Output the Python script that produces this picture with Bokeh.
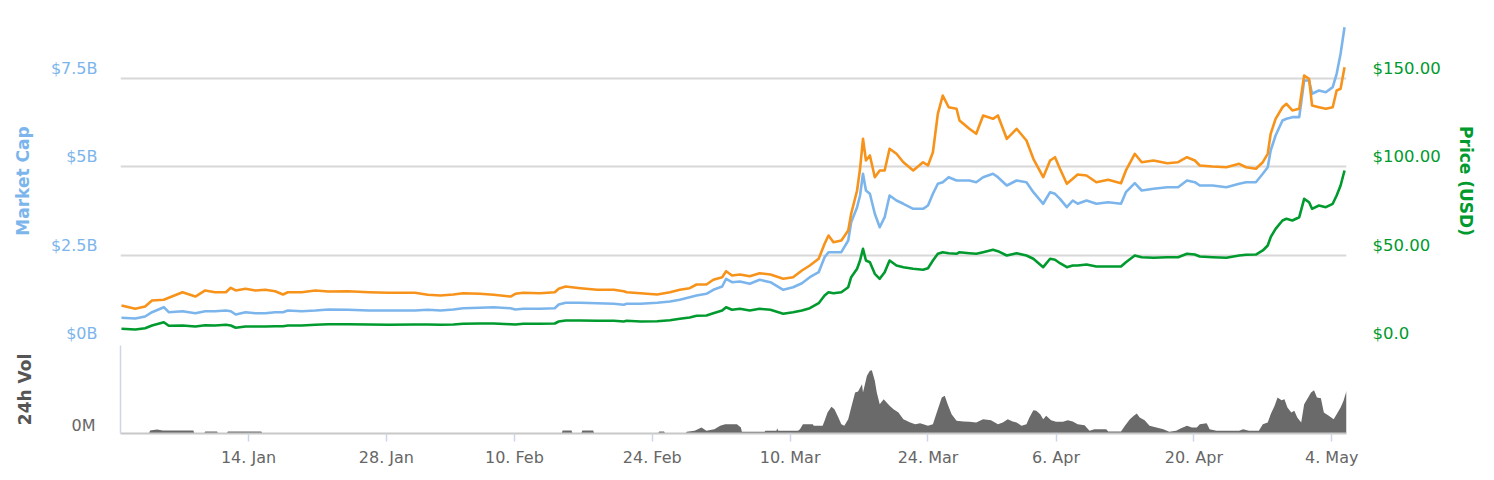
import pandas as pd
from bokeh.plotting import figure
from bokeh.models import Range1d, LinearAxis, FixedTicker
from bokeh.layouts import column
from bokeh.embed import file_html
from bokeh.resources import INLINE

START = "2017-01-01"

# sample times, in days since START
days = [0.1, 1.5, 2.5, 3.2, 4.4, 4.9, 6.3, 7.6, 8.6, 9.6, 10.7, 11.2, 11.7, 12.7, 13.7, 14.7, 15.7, 16.5, 17, 18.4,
        19.8, 21.1, 23.1, 25.2, 27.2, 29.9, 31.2,
        32.5, 33.8, 34.8, 36.5, 37.9, 39.6, 40.1, 40.9, 42.6, 44.1, 44.5, 45.2, 46.7, 48.4, 50.1, 51.1, 51.4, 52.8, 54.5, 55.8,
        56.8, 57.8, 58.5, 59.5, 60.2, 61.1, 61.5, 62.1, 62.9, 63.9,
        64.9, 66, 67.3, 68.3, 69.2, 70, 70.9, 71.5, 71.9, 72.4, 73.2, 73.9, 74.2, 74.8, 75.1, 75.4, 75.7, 76.1, 76.6, 77.1,
        77.6, 78.1, 78.8, 79.5, 80.5, 81.5, 82, 82.5, 83, 83.5, 84.1, 84.9, 85.2, 86.2, 86.9, 87.6, 88.6, 89.1, 90, 91,
        92, 92.7, 93.7,
        94.4, 94.9, 95.4, 96.1, 96.7, 97.2, 98.1, 99.1, 100.3, 101.6, 102.1, 103, 103.7, 104.9, 106.3, 107.4, 108.3, 109.1,
        109.6, 110.9, 112.3, 113.6, 114.3, 115.3, 116, 116.5, 116.8, 117.3, 118, 118.4, 119, 119.7, 120.2, 120.7, 121,
        121.7, 122.4, 123.1, 123.5, 123.9, 124.3]

market_cap_b = [0.728, 0.708, 0.764, 0.886, 1.028, 0.886, 0.914, 0.858, 0.914, 0.914, 0.934, 0.914, 0.821, 0.886, 0.858,
                0.858, 0.886, 0.886, 0.934, 0.914, 0.934, 0.963, 0.954, 0.934, 0.934, 0.934, 0.954,
                0.934, 0.963, 0.999, 1.011, 1.028, 0.999, 0.963, 0.982, 0.982, 0.999, 1.104, 1.152, 1.152, 1.141, 1.124,
                1.096, 1.124, 1.124, 1.152, 1.189, 1.237, 1.311, 1.359, 1.407, 1.520, 1.614, 1.832, 1.735, 1.755, 1.690,
                1.803, 1.735, 1.520, 1.594, 1.707, 1.877, 2.018, 2.443, 2.585, 2.585, 2.585, 2.916, 3.434, 3.859, 4.190,
                4.804, 4.331, 4.238, 3.672, 3.292, 3.576, 4.190, 4.048, 3.955, 3.813, 3.813, 3.907, 4.238, 4.521, 4.566,
                4.708, 4.615, 4.615, 4.615, 4.566, 4.708, 4.804, 4.708, 4.473, 4.615, 4.566, 4.283, 3.955,
                4.283, 4.238, 4.096, 3.859, 4.048, 3.955, 4.048, 3.955, 4.000, 3.955, 4.283, 4.538, 4.331, 4.380, 4.425,
                4.425, 4.615, 4.566, 4.473, 4.473, 4.425, 4.521, 4.566, 4.566, 4.804, 4.991, 5.464, 5.888, 6.313, 6.361,
                6.407, 6.407, 7.445, 7.445, 7.069, 7.162, 7.114, 7.256, 7.635, 8.201, 8.954]

price_usd = [8.32, 7.93, 8.66, 10.19, 12.06, 10.02, 10.19, 9.63, 10.36, 10.19, 10.59, 10.19, 8.89, 9.63, 9.63, 9.63, 9.80,
             9.80, 10.19, 10.19, 10.59, 10.93, 10.93, 10.76, 10.59, 10.76, 10.76,
             10.59, 10.76, 11.16, 11.33, 11.33, 10.93, 10.76, 11.16, 11.16, 11.33, 12.46, 13.02, 13.02, 12.86, 12.86,
             12.46, 12.86, 12.46, 12.63, 13.19, 13.99, 14.72, 15.69, 15.86, 17.16, 18.69, 20.56, 19.08, 19.65, 18.69,
             19.65, 19.08, 16.82, 17.73, 18.69, 19.99, 22.82, 27.18, 29.05, 28.48, 29.05, 31.88, 37.55, 42.30, 47.00,
             53.63, 47.00, 46.04, 39.47, 36.64, 40.38, 47.00, 44.17, 43.21, 42.30, 41.74, 42.64, 47.00, 50.80, 51.70,
             51.14, 50.80, 51.70, 51.14, 50.80, 51.70, 53.06, 52.27, 49.83, 51.14, 49.83, 47.97, 43.21,
             47.97, 47.40, 45.47, 43.21, 44.17, 44.17, 44.74, 43.61, 43.61, 43.61, 46.04, 49.83, 48.87, 48.53, 48.87,
             48.87, 50.80, 50.40, 49.27, 48.87, 48.53, 49.83, 50.23, 50.40, 52.67, 55.50, 60.20, 64.95, 69.65, 70.62,
             69.65, 71.52, 81.94, 80.02, 76.28, 78.15, 77.19, 79.11, 83.81, 89.48, 97.97]

price_btc = [0.00768, 0.00701, 0.00747, 0.00869, 0.00883, 0.00923, 0.01036, 0.00949, 0.01071, 0.01036, 0.01036, 0.01125,
             0.01071, 0.01105, 0.01071, 0.01085, 0.01056, 0.00990, 0.01036, 0.01036, 0.01071, 0.01050, 0.01056, 0.01036,
             0.01024, 0.01024, 0.00984,
             0.00970, 0.00990, 0.01016, 0.01004, 0.00984, 0.00949, 0.01004, 0.01024, 0.01016, 0.01036, 0.01105, 0.01151,
             0.01117, 0.01085, 0.01085, 0.01056, 0.01036, 0.01016, 0.00990, 0.01036, 0.01085, 0.01117, 0.01192, 0.01192,
             0.01287, 0.01339, 0.01460, 0.01374, 0.01394, 0.01359,
             0.01420, 0.01394, 0.01307, 0.01339, 0.01475, 0.01576, 0.01711, 0.02014, 0.02182, 0.02046, 0.02081, 0.02283,
             0.02620, 0.03091, 0.03529, 0.04135, 0.03697, 0.03798, 0.03359, 0.03495, 0.03495, 0.03933, 0.03832, 0.03662,
             0.03495, 0.03662, 0.03596, 0.03864, 0.04640, 0.05010, 0.04773, 0.04741, 0.04505, 0.04337, 0.04236, 0.04606,
             0.04539, 0.04606, 0.04135, 0.04337, 0.04101, 0.03731, 0.03359,
             0.03697, 0.03763, 0.03529, 0.03226, 0.03327, 0.03414, 0.03394, 0.03258, 0.03307, 0.03238, 0.03495, 0.03832,
             0.03662, 0.03697, 0.03642, 0.03662, 0.03763, 0.03697, 0.03596, 0.03575, 0.03561, 0.03630, 0.03561, 0.03529,
             0.03662, 0.03832, 0.04236, 0.04539, 0.04773, 0.04842, 0.04707, 0.04741, 0.05414, 0.05347, 0.04808, 0.04773,
             0.04741, 0.04773, 0.05111, 0.05145, 0.05581]

vol_days = [0, 2.9, 3.0, 3.7, 4.3, 7.4, 7.5, 8.5, 8.6, 9.8, 9.9, 10.8, 10.9, 14.3, 14.4, 44.8, 44.9, 45.8, 45.9, 46.8,
            46.9, 48.0, 48.1, 54.6, 54.7, 55.2, 55.3, 57.4,
            57.5, 58.3, 59, 59.5, 60.3, 60.9, 61.4, 62.6, 63, 63.1, 65.4, 65.5, 66.6, 66.7, 66.8, 68.8, 69.0, 69.3, 70.3,
            70.4, 71.3, 71.5, 71.8, 72.2, 72.5, 72.9, 73.2, 73.5, 73.9, 74.2, 74.6, 74.9, 75.3, 75.4, 75.8, 76.1, 76.3,
            76.6, 76.8, 77.1, 77.5, 77.8, 78.1, 78.5, 79, 79.5, 80.2, 80.7, 81.2, 82, 82.5, 83, 83.4, 83.7, 84, 84.4,
            84.9, 85.6, 86.2, 86.9, 87.6, 88.4, 89.1, 89.6, 90.1, 90.6, 91.0, 91.5, 92, 92.3, 92.7, 93, 93.4, 93.7, 94,
            94.5, 95, 95.7, 96.2, 96.7, 97.2, 97.9, 98.4, 98.9, 100.1, 100.3, 101.6, 102, 102.5, 102.9, 103.2, 103.5,
            104, 104.5, 105.2, 105.9, 106.5, 107.2, 107.7, 108.3, 108.8, 109.3, 109.6, 110.3, 110.6, 111.3, 113.6, 114,
            114.6, 115.6, 116, 116.5, 116.8, 117.2, 117.5, 117.9, 118.2, 118.5, 118.9, 119.2, 119.5, 119.9, 120.2,
            120.5, 120.9, 121.2, 121.5, 121.9, 122.2, 122.7, 123.2, 123.5, 123.9, 124.2, 124.5]

volume_m = [2, 2, 22, 30, 22, 22, 2, 2, 15, 15, 2, 2, 15, 15, 2, 2, 22, 22, 2, 2,
            22, 22, 2, 2, 15, 15, 2, 2,
            13, 20, 45, 20, 32, 58, 70, 70, 45, 13, 13, 20, 20, 38, 20, 20, 32, 70, 70,
            58, 58, 95, 158, 200, 182, 120, 70, 58, 107, 195, 308, 315, 370, 308, 433, 470, 475,
            395, 308, 220, 257, 233, 208, 182, 158, 107, 83, 70, 77, 58, 70, 182, 270, 283, 220, 145,
            95, 90, 88, 83, 107, 100, 70, 83, 107, 90, 83, 58, 70, 120, 175, 170, 145, 107, 133,
            100, 88, 88, 100, 90, 70, 62, 20, 32, 32, 15, 15, 58, 107, 133, 150, 120,
            100, 58, 45, 32, 13, 20, 40, 58, 45, 45, 70, 77, 32, 20, 20, 32,
            20, 20, 70, 83, 145, 208, 270, 250, 257, 195, 158, 170, 120, 83, 220,
            257, 308, 325, 270, 265, 158, 133, 107, 145, 195, 245, 320]

tick_dates = ["2017-01-14", "2017-01-28", "2017-02-10", "2017-02-24", "2017-03-10",
              "2017-03-24", "2017-04-06", "2017-04-20", "2017-05-04"]
tick_labels = ["14. Jan", "28. Jan", "10. Feb", "24. Feb", "10. Mar", "24. Mar", "6. Apr", "20. Apr", "4. May"]

cap_ticks = [0, 2.5, 5, 7.5]
cap_labels = ["$0B", "$2.5B", "$5B", "$7.5B"]
usd_ticks = [0, 50, 100, 150]
usd_labels = ["$0.0", "$50.00", "$100.00", "$150.00"]

BLUE = "#7cb5ec"
ORANGE = "#f7931a"
GREEN = "#009a2e"
FONT = "DejaVu Sans"

t0 = pd.Timestamp(START)
x = t0 + pd.to_timedelta(days, unit="D")
vx = t0 + pd.to_timedelta(vol_days, unit="D")
x_range = Range1d(start=t0, end=t0 + pd.Timedelta(days=124.5))

W = 1478
FRAME_H = 325
CAP_MAX = 9.20
USD_MAX = 184.05
BTC_MAX = 0.06565
VOL_MAX = 660.0
LABEL_SHIFT_PX = 10

p = figure(width=W, height=345, x_axis_type="datetime", x_range=x_range,
           y_range=Range1d(0, CAP_MAX), output_backend="svg", toolbar_location=None,
           x_axis_location=None, min_border_left=120, min_border_right=131,
           min_border_top=18, min_border_bottom=2)
p.extra_y_ranges = {"usd": Range1d(0, USD_MAX), "btc": Range1d(0, BTC_MAX)}
p.outline_line_color = None
p.xgrid.visible = False
p.ygrid.ticker = FixedTicker(ticks=cap_ticks)
p.ygrid.grid_line_color = "#d8d8d8"
p.ygrid.grid_line_width = 2

off_cap = LABEL_SHIFT_PX * CAP_MAX / FRAME_H
cap_pos = [t + off_cap for t in cap_ticks]
ya = p.yaxis[0]
ya.ticker = FixedTicker(ticks=cap_pos)
ya.major_label_overrides = {k: v for k, v in zip(cap_pos, cap_labels)}
ya.axis_line_color = None
ya.major_tick_line_color = None
ya.minor_tick_line_color = None
ya.major_tick_out = 0
ya.major_label_standoff = 23
ya.major_label_text_color = BLUE
ya.major_label_text_font = FONT
ya.major_label_text_font_size = "16px"
ya.axis_label = "Market Cap"
ya.axis_label_text_color = BLUE
ya.axis_label_text_font = FONT
ya.axis_label_text_font_size = "17px"
ya.axis_label_text_font_style = "bold"
ya.axis_label_standoff = 15

off_usd = LABEL_SHIFT_PX * USD_MAX / FRAME_H
usd_pos = [t + off_usd for t in usd_ticks]
ra = LinearAxis(y_range_name="usd", ticker=FixedTicker(ticks=usd_pos),
                major_label_overrides={k: v for k, v in zip(usd_pos, usd_labels)})
ra.axis_line_color = None
ra.major_tick_line_color = None
ra.minor_tick_line_color = None
ra.major_tick_out = 0
ra.major_label_standoff = 26
ra.major_label_text_color = GREEN
ra.major_label_text_font = FONT
ra.major_label_text_font_size = "16.5px"
ra.axis_label = "Price (USD)"
ra.axis_label_text_color = GREEN
ra.axis_label_text_font = FONT
ra.axis_label_text_font_size = "17px"
ra.axis_label_text_font_style = "bold"
ra.axis_label_standoff = 12
p.add_layout(ra, "right")

p.line(x, market_cap_b, line_color=BLUE, line_width=2.6, line_join="round")
p.line(x, price_btc, y_range_name="btc", line_color=ORANGE, line_width=2.6, line_join="round")
p.line(x, price_usd, y_range_name="usd", line_color=GREEN, line_width=2.6, line_join="round")

# volume panel
v = figure(width=W, height=124, x_axis_type="datetime", x_range=x_range,
           y_range=Range1d(0, VOL_MAX), output_backend="svg", toolbar_location=None,
           min_border_left=120, min_border_right=131, min_border_top=0, min_border_bottom=36)
v.outline_line_color = None
v.xgrid.visible = False
v.ygrid.visible = False
v.varea(x=vx, y1=0, y2=volume_m, fill_color="#6a6a6a")

vol_pos = [8 * VOL_MAX / 88]
va = v.yaxis[0]
va.ticker = FixedTicker(ticks=vol_pos)
va.major_label_overrides = {vol_pos[0]: "0M"}
va.axis_line_color = "#ccd6eb"
va.axis_line_width = 1.5
va.major_tick_line_color = None
va.minor_tick_line_color = None
va.major_tick_out = 0
va.major_label_standoff = 25
va.major_label_text_color = "#666666"
va.major_label_text_font = FONT
va.major_label_text_font_size = "16px"
va.axis_label = "24h Vol"
va.axis_label_text_color = "#555555"
va.axis_label_text_font = FONT
va.axis_label_text_font_size = "17px"
va.axis_label_text_font_style = "bold"
va.axis_label_standoff = 34

tick_ms = [int(pd.Timestamp(d).value // 10**6) for d in tick_dates]
xa = v.xaxis[0]
xa.ticker = FixedTicker(ticks=tick_ms)
xa.major_label_overrides = {k: lab for k, lab in zip(tick_ms, tick_labels)}
xa.axis_line_color = "#c8c8c8"
xa.axis_line_width = 2
xa.major_tick_line_color = "#ccd6eb"
xa.major_tick_line_width = 1.5
xa.major_tick_in = 0
xa.major_tick_out = 8
xa.minor_tick_line_color = None
xa.major_label_standoff = 6
xa.major_label_text_color = "#666666"
xa.major_label_text_font = FONT
xa.major_label_text_font_size = "16px"

layout = column(p, v, spacing=0)
open("out.html", "w").write(file_html(layout, INLINE))
